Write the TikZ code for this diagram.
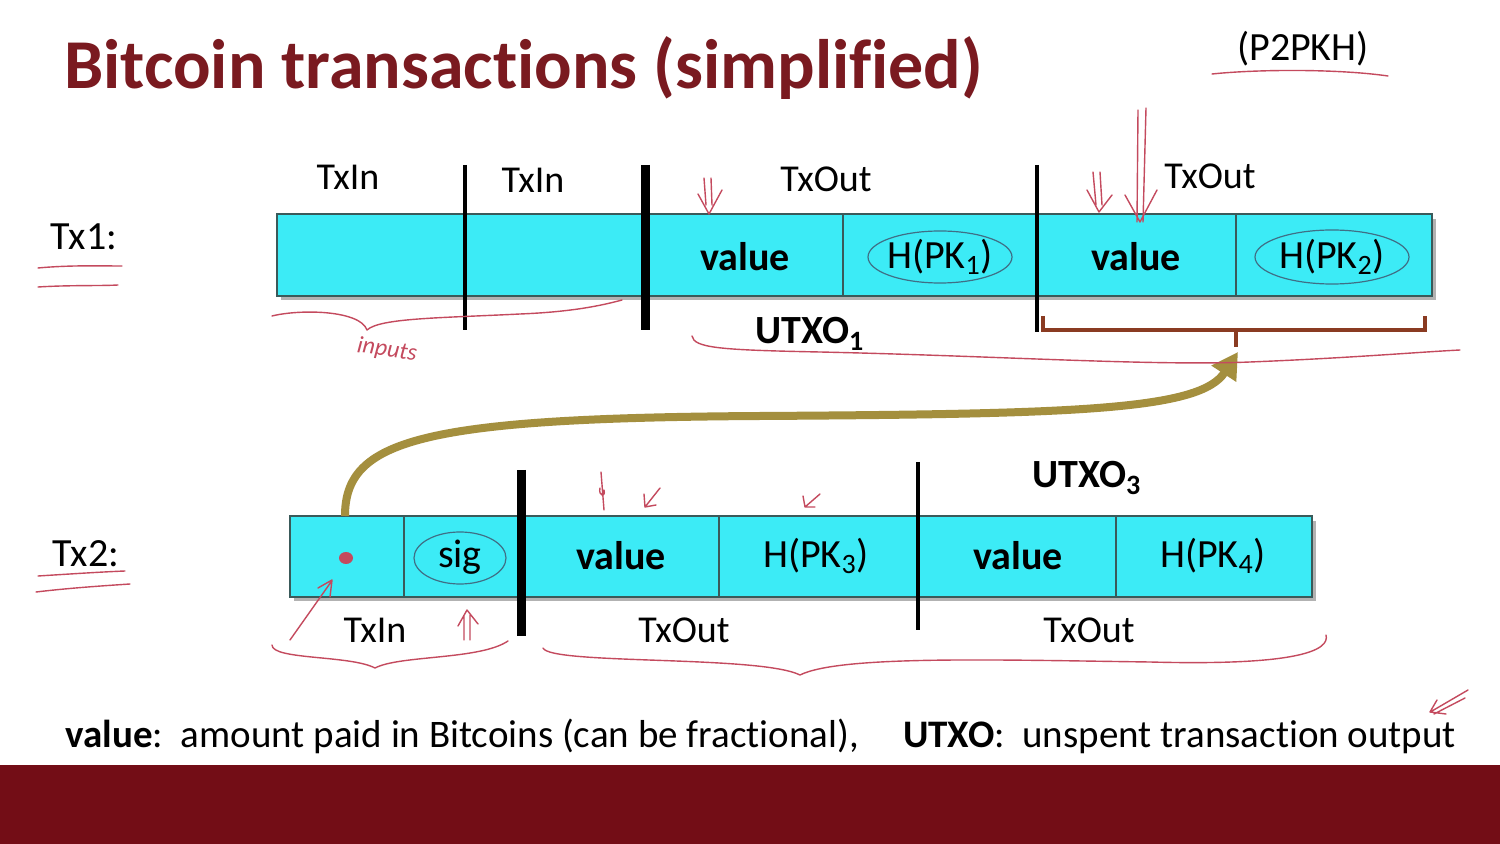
\documentclass[tikz,border=0pt]{standalone}
\usepackage{fontspec}
\setmainfont{Carlito}[Ligatures={NoCommon}]
\usetikzlibrary{arrows.meta}
\definecolor{titlered}{HTML}{7A1A20}
\definecolor{barred}{HTML}{730D16}
\definecolor{cellcyan}{HTML}{3CEBF6}
\definecolor{olivearrow}{HTML}{A48F3E}
\definecolor{brack}{HTML}{8A3B22}
\definecolor{pen}{HTML}{C44A5E}
\definecolor{bluepen}{HTML}{3F6F86}
\definecolor{celledge}{HTML}{3A5A5A}
\begin{document}
\begin{tikzpicture}[x=0.5pt,y=-0.5pt,
  lbl/.style={font=\fontsize{20}{24}\selectfont, inner sep=0pt},
  blbl/.style={font=\bfseries\fontsize{20}{24}\selectfont, inner sep=0pt},
  txlbl/.style={font=\fontsize{19}{23}\selectfont, inner sep=0pt},
  barbox/.style={fill=cellcyan, draw=celledge, line width=0.6pt},
  barshadow/.style={fill=black, opacity=0.3},
  thindiv/.style={draw=celledge, line width=0.6pt},
  thickdiv/.style={line width=2pt},
  heavydiv/.style={line width=4.5pt},
  penline/.style={draw=pen, line width=0.7pt, line cap=round, line join=round},
  blueloop/.style={draw=bluepen, line width=0.6pt},
  bracketline/.style={draw=brack, line width=1.6pt}]
\useasboundingbox (0,0) rectangle (1500,844);
\fill[white] (0,0) rectangle (1500,844);
\fill[barred] (0,765) rectangle (1500,844);

% title
\node[anchor=base west, inner sep=0pt, text=titlered, font=\bfseries\fontsize{35}{40}\selectfont] (title) at (64,89) {Bitcoin transactions (simplified)};
\node[lbl, anchor=base] (p2pkh) at (1303,61) {(P2PKH)};

% ---------- Tx1 ----------
\node[lbl, anchor=base] (tx1) at (84,250) {Tx1:};
\fill[barshadow] (281,219) rectangle (1436,300);
\draw[barbox] (277,214) rectangle (1432,296);
\draw[thindiv] (843,214) -- (843,296);
\draw[thindiv] (1236,214) -- (1236,296);
\draw[thickdiv] (465,165) -- (465,330);
\draw[heavydiv] (645,165) -- (645,330);
\draw[thickdiv] (1037,165) -- (1037,332);

\node[txlbl, anchor=base] (a1) at (348,190) {TxIn};
\node[txlbl, anchor=base] (a2) at (533,193) {TxIn};
\node[txlbl, anchor=base] (a3) at (826,192) {TxOut};
\node[txlbl, anchor=base] (a4) at (1210,189) {TxOut};
\node[blbl] (v11) at (745,257) {value};
\node[lbl] (h1) at (940,257) {H(PK\textsubscript{1})};
\node[blbl] (v12) at (1136,257) {value};
\node[lbl] (h2) at (1332,257) {H(PK\textsubscript{2})};
\draw[blueloop] (940,257) ellipse [x radius=72, y radius=26];
\draw[blueloop] (1332,257) ellipse [x radius=77, y radius=27];
\node[blbl, anchor=base] (u1) at (810,344) {UTXO\textsubscript{1}};

% bracket
\draw[bracketline] (1043,316) -- (1043,330) -- (1425,330) -- (1425,316);
\draw[bracketline] (1236,330) -- (1236,347);
\coordinate (brtip) at (1238,352);

% ---------- Tx2 ----------
\node[lbl, anchor=base] (tx2) at (86,567) {Tx2:};
\fill[barshadow] (294,521) rectangle (1316,601);
\draw[barbox] (290,516) rectangle (1312,597);
\draw[thindiv] (404,516) -- (404,597);
\draw[thindiv] (719,516) -- (719,597);
\draw[thindiv] (1116,516) -- (1116,597);
\draw[heavydiv] (521,470) -- (521,636);
\draw[thickdiv] (918,462) -- (918,630);

\fill[pen] (346,558) ellipse [x radius=7, y radius=6];
\node[inner sep=0pt] (dot) at (346,558) {};
\node[lbl] (sig) at (460,557) {sig};
\draw[blueloop] (460,558) ellipse [x radius=46, y radius=26];
\node[blbl] (v21) at (621,556) {value};
\node[lbl] (h3) at (816,556) {H(PK\textsubscript{3})};
\node[blbl] (v22) at (1018,556) {value};
\node[lbl] (h4) at (1213,556) {H(PK\textsubscript{4})};
\node[blbl, anchor=base] (u3) at (1087,488) {UTXO\textsubscript{3}};
\node[txlbl, anchor=base] (b1) at (375,642) {TxIn};
\node[txlbl, anchor=base] (b2) at (684,642) {TxOut};
\node[txlbl, anchor=base] (b3) at (1089,642) {TxOut};

% olive arrow
\coordinate (src) at (345,516);
\draw[olivearrow, line width=4pt, -{Triangle[length=13pt,width=14pt]}]
  (src) .. controls (345,440) and (420,418) .. (760,416)
        .. controls (1080,414) and (1200,410) .. (brtip);

% bottom legend
\node[anchor=base west, inner sep=0pt, font=\fontsize{19.5}{23}\selectfont] (legend) at (65,747)
  {\textbf{value}:\ \ amount paid in Bitcoins (can be fractional),\hspace{22pt}\textbf{UTXO}:\ \ unspent transaction output};

% ---------- pen annotations ----------
\draw[penline] (1212,74) .. controls (1260,69) and (1340,69) .. (1388,76);
\draw[penline] (38,268) .. controls (70,265) and (100,266) .. (122,266);
\draw[penline] (38,287) .. controls (70,285) and (100,286) .. (118,285);
\draw[penline] (38,576) .. controls (70,574) and (100,572) .. (125,571);
\draw[penline] (36,592) .. controls (70,588) and (100,586) .. (130,584);
% arrows Tx1
\draw[penline] (704,178) -- (706,205) (711,178) -- (712,205) (698,194) -- (709,214) -- (722,190);
\draw[penline] (1093,172) -- (1096,205) (1100,172) -- (1102,205) (1087,190) -- (1099,212) -- (1112,195);
\draw[penline] (1138,110) -- (1137,222) (1146,108) -- (1143,222) (1125,195) -- (1140,222) -- (1157,190);
% inputs brace
\draw[penline] (272,316) .. controls (300,309) and (360,310) .. (367,330)
  .. controls (380,318) and (440,318) .. (520,314) .. controls (570,312) and (600,306) .. (622,300);
\node[pen, rotate=-8, font=\itshape\fontsize{12}{14}\selectfont, inner sep=0pt] (inputs) at (387,350) {inputs};
% UTXO1 underline
\draw[penline] (692,336) .. controls (694,348) and (720,350) .. (820,352)
  .. controls (1000,356) and (1150,366) .. (1250,362) .. controls (1350,358) and (1420,352) .. (1460,350);
% Tx2 marks
\draw[penline] (290,640) -- (331,582) (318,588) -- (332,580) -- (330,597);
\draw[penline] (464,640) -- (464,615) (470,640) -- (470,615) (458,626) -- (467,610) -- (478,624);
\draw[penline] (272,645) .. controls (272,660) and (350,655) .. (375,668)
  .. controls (400,655) and (480,660) .. (508,641);
\draw[penline] (543,648) .. controls (550,665) and (760,655) .. (800,675)
  .. controls (840,655) and (1000,660) .. (1150,662) .. controls (1300,666) and (1330,650) .. (1326,635);
\draw[penline] (601,472) -- (604,510) (600,488) .. controls (598,496) and (606,498) .. (604,490);
\draw[penline] (660,488) -- (645,507) (644,494) -- (645,507) -- (656,505);
\draw[penline] (820,494) -- (805,507) (803,496) -- (805,507) -- (815,507);
\draw[penline] (1468,690) -- (1432,711) (1465,698) -- (1434,714) (1437,700) -- (1430,712) -- (1446,714);
\end{tikzpicture}
\end{document}
